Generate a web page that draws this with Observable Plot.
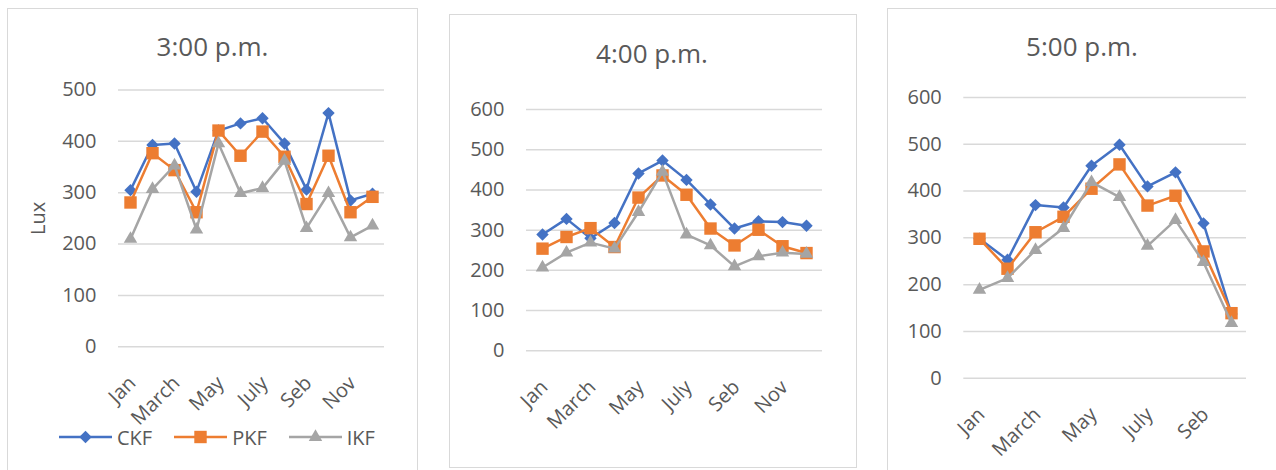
<!DOCTYPE html>
<html>
<head>
<meta charset="utf-8">
<script src="https://cdn.jsdelivr.net/npm/d3@7"></script>
<script src="https://cdn.jsdelivr.net/npm/@observablehq/plot@0.6"></script>
<style>
  body { margin: 0; background: #fff; font-family: "Open Sans", sans-serif; }
  #page { position: relative; width: 1276px; height: 470px; overflow: hidden; background: #fff; }
  .box { position: absolute; border: 1px solid #d9d9d9; box-sizing: border-box; }
  .title { position: absolute; font-size: 26px; line-height: 26px; color: #595959; transform: translateX(-50%); white-space: nowrap; }
  .chart { position: absolute; top: 0; }
  .legend { position: absolute; display: flex; align-items: center; font-size: 20px; color: #595959; }
  .legend .item { display: flex; align-items: center; margin-right: 22px; }
  .legend svg { margin-right: 5px; }
</style>
</head>
<body>
<div id="page"></div>
<script>
// Month categories (only every other one is labelled on the axis)
const months = ["Jan", "Feb", "March", "April", "May", "June", "July", "Aug", "Seb", "Oct", "Nov", "Dec"];
const monthLabels = ["Jan", "March", "May", "July", "Seb", "Nov"];
const months5 = months.slice(0, 10);
const monthLabels5 = ["Jan", "March", "May", "July", "Seb"];

const seriesNames = ["CKF", "PKF", "IKF"];
const seriesColors = ["#4472C4", "#ED7D31", "#A5A5A5"];
const seriesSymbols = ["diamond2", "square", "triangle"];
const seriesR = [5.6, 7, 5];

// Illuminance (lux) at 3:00 p.m.
const ckf3 = [305, 393, 396, 302, 421, 435, 445, 396, 306, 455, 285, 298];
const pkf3 = [281, 377, 344, 262, 421, 372, 419, 370, 278, 372, 262, 292];
const ikf3 = [210, 307, 353, 228, 396, 299, 309, 362, 231, 299, 213, 236];

// Illuminance (lux) at 4:00 p.m.
const ckf4 = [289, 328, 280, 318, 441, 473, 425, 364, 304, 322, 320, 311];
const pkf4 = [254, 283, 305, 258, 381, 436, 388, 304, 262, 301, 260, 243];
const ikf4 = [207, 244, 269, 254, 345, 445, 289, 262, 210, 235, 244, 241];

// Illuminance (lux) at 5:00 p.m.
const ckf5 = [298, 253, 370, 365, 454, 499, 410, 440, 331, 137];
const pkf5 = [298, 234, 312, 345, 405, 457, 369, 390, 271, 139];
const ikf5 = [189, 214, 274, 321, 419, 387, 283, 338, 248, 118];

const yTicks3 = [0, 100, 200, 300, 400, 500];
const yTicks45 = [0, 100, 200, 300, 400, 500, 600];

const page = document.getElementById("page");

function toRows(cats, arrays) {
  const rows = [];
  arrays.forEach((vals, s) => vals.forEach((v, i) => rows.push({month: cats[i], value: v, series: seriesNames[s]})));
  return rows;
}

function panel(cfg) {
  const box = document.createElement("div");
  box.className = "box";
  Object.assign(box.style, {left: cfg.box[0] + "px", top: cfg.box[1] + "px", width: cfg.box[2] + "px", height: cfg.box[3] + "px"});
  page.appendChild(box);

  const rows = toRows(cfg.cats, cfg.values);
  const marks = [
    Plot.gridY(cfg.yTicks, {stroke: "#d9d9d9", strokeOpacity: 1, strokeWidth: 1.5}),
    Plot.axisY(cfg.yTicks, {tickSize: 0, tickPadding: cfg.yPad, fontSize: 20, label: cfg.yLabel || null, labelAnchor: "center", labelArrow: false, labelOffset: cfg.labelOffset || 0}),
    Plot.axisX(cfg.xLabels, {tickSize: 0, tickRotate: -45, tickPadding: cfg.xPad, fontSize: 20, dx: 2, label: null})
  ];
  seriesNames.forEach((name, s) => {
    const data = rows.filter(d => d.series === name);
    marks.push(Plot.line(data, {x: "month", y: "value", stroke: seriesColors[s], strokeWidth: 2.5}));
    marks.push(Plot.dot(data, {x: "month", y: "value", symbol: () => seriesSymbols[s], fill: seriesColors[s], stroke: "none", r: seriesR[s]}));
  });

  const chart = Plot.plot({
    width: cfg.width,
    height: 470,
    marginLeft: cfg.ml,
    marginRight: cfg.mr,
    marginTop: cfg.mt,
    marginBottom: cfg.mb,
    style: {fontFamily: "'Open Sans', sans-serif", fontSize: "20px", color: "#595959", background: "transparent", overflow: "visible"},
    x: {type: "point", domain: cfg.cats, padding: 0.5},
    y: {domain: cfg.yDomain},
    symbol: {type: "identity"},
    marks
  });
  chart.classList.add("chart");
  chart.style.left = cfg.left + "px";
  page.appendChild(chart);

  const t = document.createElement("div");
  t.className = "title";
  t.textContent = cfg.title;
  t.style.left = cfg.titleX + "px";
  t.style.top = cfg.titleY + "px";
  page.appendChild(t);
}

panel({
  title: "3:00 p.m.", titleX: 212.5, titleY: 33,
  box: [7, 8, 411, 520],
  left: 0, width: 420, ml: 118, mr: 36, mt: 89.5, mb: 123.7,
  cats: months, xLabels: monthLabels, yDomain: [0, 500], yTicks: yTicks3,
  values: [ckf3, pkf3, ikf3], yPad: 22, xPad: 33, yLabel: "Lux", labelOffset: 88
});

panel({
  title: "4:00 p.m.", titleX: 652, titleY: 40,
  box: [449, 14, 408, 454],
  left: 420, width: 450, ml: 106, mr: 48, mt: 109, mb: 119.7,
  cats: months, xLabels: monthLabels, yDomain: [0, 600], yTicks: yTicks45,
  values: [ckf4, pkf4, ikf4], yPad: 22, xPad: 33
});

panel({
  title: "5:00 p.m.", titleX: 1082, titleY: 33,
  box: [887, 8, 500, 520],
  left: 870, width: 406, ml: 93.3, mr: 30, mt: 97, mb: 92.3,
  cats: months5, xLabels: monthLabels5, yDomain: [0, 600], yTicks: yTicks45,
  values: [ckf5, pkf5, ikf5], yPad: 22, xPad: 33
});

// Legend for the series (shown under the first panel)
const legend = document.createElement("div");
legend.className = "legend";
Object.assign(legend.style, {left: "59px", top: "424px", height: "26px"});
seriesNames.forEach((name, s) => {
  const item = document.createElement("div");
  item.className = "item";
  const sym = d3.symbol(
    [d3.symbolDiamond2, d3.symbolSquare, d3.symbolTriangle][s],
    Math.PI * seriesR[s] * seriesR[s]
  )();
  item.innerHTML = `<svg width="53" height="26"><line x1="0" x2="53" y1="13" y2="13" stroke="${seriesColors[s]}" stroke-width="2.5"/><path transform="translate(26.5,13)" d="${sym}" fill="${seriesColors[s]}"/></svg><span>${name}</span>`;
  legend.appendChild(item);
});
page.appendChild(legend);
</script>
</body>
</html>
